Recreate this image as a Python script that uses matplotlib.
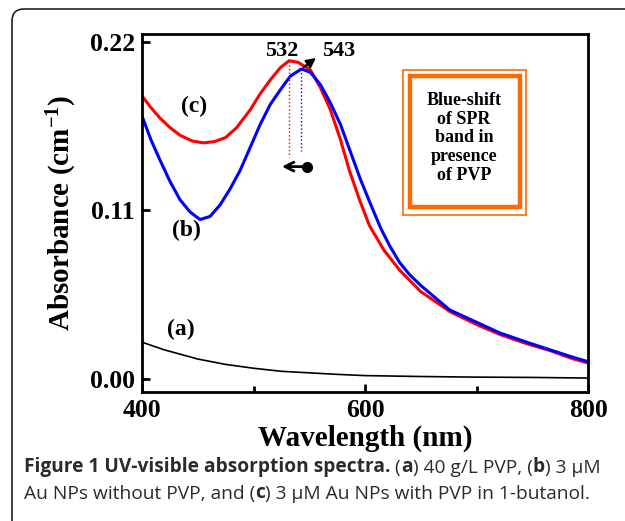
import matplotlib
matplotlib.use("Agg")
import matplotlib.pyplot as plt
from matplotlib.patches import FancyBboxPatch, Rectangle

# wavelength (nm) and absorbance
wl_c = [400, 408, 416, 425, 434, 445, 455, 465, 475, 485, 497, 506, 515, 524, 532, 540, 551, 560, 569, 578, 586, 595, 604, 617, 631, 650, 676, 700, 721, 745, 766, 785, 800]
abs_c = [0.1846, 0.1770, 0.1703, 0.1640, 0.1590, 0.1552, 0.1540, 0.1548, 0.1575, 0.1640, 0.1755, 0.1860, 0.1950, 0.2030, 0.2076, 0.2065, 0.2016, 0.1900, 0.1755, 0.1560, 0.1360, 0.1170, 0.1000, 0.0840, 0.0710, 0.0570, 0.0440, 0.0355, 0.0290, 0.0230, 0.0185, 0.0135, 0.0104]

wl_b = [400, 408, 416, 425, 434, 443, 452, 461, 470, 479, 488, 497, 506, 515, 524, 533, 543, 551, 560, 569, 578, 587, 596, 605, 614, 622, 631, 640, 650, 663, 676, 700, 721, 745, 766, 785, 800]
abs_b = [0.1716, 0.1560, 0.1430, 0.1290, 0.1170, 0.1090, 0.1040, 0.1060, 0.1135, 0.1240, 0.1360, 0.1510, 0.1660, 0.1790, 0.1885, 0.1975, 0.2022, 0.2000, 0.1920, 0.1800, 0.1660, 0.1480, 0.1300, 0.1140, 0.0985, 0.0870, 0.0760, 0.0680, 0.0610, 0.0530, 0.0450, 0.0370, 0.0300, 0.0240, 0.0190, 0.0145, 0.0113]

wl_a = [400, 410, 420, 435, 450, 475, 500, 525, 550, 575, 600, 650, 700, 750, 800]
abs_a = [0.0240, 0.0215, 0.0190, 0.0160, 0.0130, 0.0095, 0.0070, 0.0050, 0.0040, 0.0030, 0.0022, 0.0016, 0.0012, 0.0010, 0.0006]

peak_c, peak_b = 532, 543
peak_c_val, peak_b_val = 0.2076, 0.2022

x_ticks = [400, 600, 800]
x_minor = [500, 700]
y_ticks = [0.00, 0.11, 0.22]
y_ticklabels = ["0.00", "0.11", "0.22"]

box_text = "Blue-shift\nof SPR\nband in\npresence\nof PVP"

serif = "Liberation Serif"
sans = "Open Sans"
orange = "#ff6a00"
cap_col = "#2b2b2b"

plt.rcParams["mathtext.fontset"] = "custom"
plt.rcParams["mathtext.rm"] = "Liberation Serif:bold"
plt.rcParams["mathtext.bf"] = "Liberation Serif:bold"
plt.rcParams["mathtext.default"] = "bf"

fig = plt.figure(figsize=(6.25, 5.21), dpi=100)
ax = fig.add_axes([142 / 625, 1 - 392 / 521, 446 / 625, 358 / 521])

ax.plot(wl_a, abs_a, color="black", lw=1.2)
ax.plot(wl_c, abs_c, color="#ff0000", lw=2.2)
ax.plot(wl_b, abs_b, color="#0000ff", lw=2.2)

ax.set_xlim(400, 800)
ax.set_ylim(-0.0085, 0.225)
ax.set_xticks(x_ticks)
ax.set_xticks(x_minor, minor=True)
ax.set_yticks(y_ticks)
ax.set_yticklabels(y_ticklabels)
ax.tick_params(which="both", direction="in", top=False, right=False, width=2, pad=5)
ax.tick_params(which="major", length=6)
ax.tick_params(which="minor", length=4)
for lab in ax.get_xticklabels() + ax.get_yticklabels():
    lab.set_fontfamily(serif)
    lab.set_fontweight("bold")
    lab.set_fontsize(18.5)
for sp in ax.spines.values():
    sp.set_linewidth(2)

ax.set_xlabel("Wavelength (nm)", family=serif, weight="bold", fontsize=21, labelpad=2)
ax.set_ylabel("Absorbance (cm$^{-1}$)", family=serif, weight="bold", fontsize=21, labelpad=8)

# peak markers
ax.plot([peak_c, peak_c], [peak_c_val, 0.145], color="#ff0000", lw=1, ls=":")
ax.plot([peak_b, peak_b], [peak_b_val, 0.149], color="#0000ff", lw=1, ls=":")
ax.text(peak_c - 7, 0.214, "532", family=serif, weight="bold", fontsize=16, ha="center", va="center")
ax.text(peak_b + 33, 0.214, "543", family=serif, weight="bold", fontsize=16, ha="center", va="center")
ax.annotate("", xy=(558, 0.2105), xytext=(peak_b, peak_b_val),
            arrowprops=dict(arrowstyle="-|>", color="black", lw=1.5, mutation_scale=14))
ax.annotate("", xy=(523, 0.1385), xytext=(548, 0.1385),
            arrowprops=dict(arrowstyle="->", color="black", lw=2, mutation_scale=16))
ax.plot([548], [0.1385], "o", color="black", ms=7)

ax.text(447, 0.178, "(c)", family=serif, weight="bold", fontsize=17, ha="center", va="center")
ax.text(440, 0.097, "(b)", family=serif, weight="bold", fontsize=17, ha="center", va="center")
ax.text(435, 0.032, "(a)", family=serif, weight="bold", fontsize=17, ha="center", va="center")

# orange double box
fig.add_artist(Rectangle((403 / 625, 1 - 215 / 521), 123 / 625, 145 / 521, transform=fig.transFigure,
                         fill=False, edgecolor=orange, lw=1.2))
fig.add_artist(Rectangle((409.5 / 625, 1 - 207 / 521), 110 / 625, 131 / 521, transform=fig.transFigure,
                         fill=False, edgecolor=orange, lw=3.2))
fig.text(464 / 625, 1 - 138 / 521, box_text, family=serif, weight="bold", fontsize=13,
         ha="center", va="center", linespacing=1.12)

# outer rounded frame
fig.add_artist(FancyBboxPatch((0.12, -0.5), 7.0, 5.62, boxstyle="round,pad=0,rounding_size=0.12",
                              transform=fig.dpi_scale_trans, fill=False, edgecolor="#222222", lw=1.2))


def caption(x, y, parts):
    # chain text pieces so bold and regular runs sit on one line
    prev = fig.text(x, y, parts[0][0], family=sans, weight=parts[0][1], fontsize=13.8,
                    color=cap_col, va="bottom")
    for s, w in parts[1:]:
        prev = fig.add_artist(matplotlib.text.Annotation(
            s, xy=(1, 0), xycoords=prev, va="bottom", ha="left",
            family=sans, weight=w, fontsize=13.8, color=cap_col))


caption(24 / 625, 1 - 477 / 521, [("Figure 1 UV-visible absorption spectra.", "bold"), (" (", "normal"),
                                  ("a", "bold"), (") 40 g/L PVP, (", "normal"), ("b", "bold"),
                                  (") 3 \u00b5M", "normal")])
caption(24 / 625, 1 - 503 / 521, [("Au NPs without PVP, and (", "normal"), ("c", "bold"),
                                  (") 3 \u00b5M Au NPs with PVP in 1-butanol.", "normal")])

fig.savefig("out.png", dpi=100)
